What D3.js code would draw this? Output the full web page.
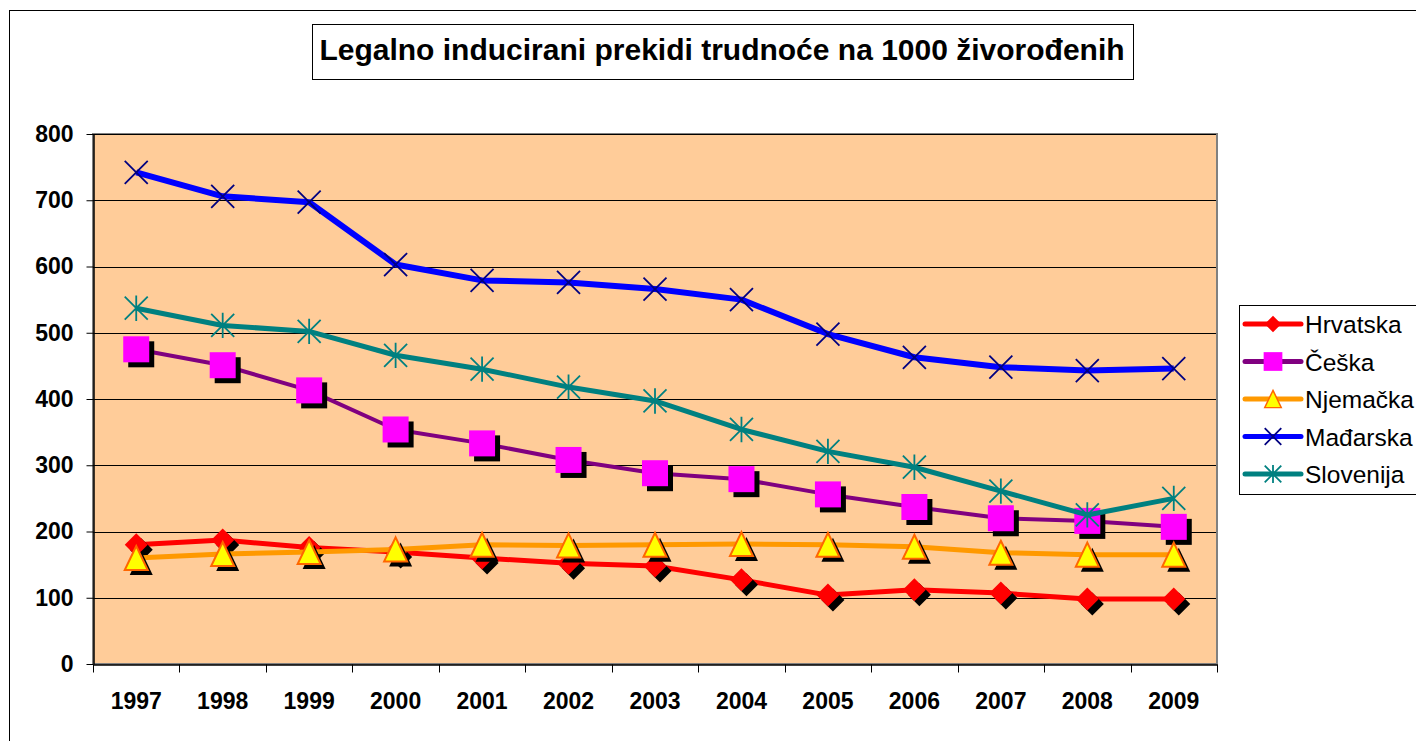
<!DOCTYPE html>
<html>
<head>
<meta charset="utf-8">
<script src="https://cdn.jsdelivr.net/npm/d3@7"></script>
<style>
  body { margin: 0; background: #fff; }
  svg { display: block; font-family: "Liberation Sans", Arial, sans-serif; }
</style>
</head>
<body>
<svg id="chart" width="1416" height="741"></svg>
<script>
// chart data
var years = ["1997", "1998", "1999", "2000", "2001", "2002", "2003", "2004", "2005", "2006", "2007", "2008", "2009"];
var yTicks = [0, 100, 200, 300, 400, 500, 600, 700, 800];

var hrvatska  = [180, 187, 176, 169, 160, 152, 148, 127, 104, 112, 107, 98, 98];
var ceska     = [475, 451, 413, 354, 333, 308, 288, 279, 256, 237, 220, 216, 207];
var njemacka  = [160, 166, 169, 173, 180, 179, 180, 181, 180, 177, 168, 165, 165];
var madarska  = [742, 706, 697, 603, 579, 576, 566, 550, 498, 463, 448, 443, 446];
var slovenija = [537, 511, 502, 466, 445, 418, 397, 354, 321, 297, 261, 225, 250];

var seriesNames = ["Hrvatska", "Češka", "Njemačka", "Mađarska", "Slovenija"];

var TITLE = "Legalno inducirani prekidi trudnoće na 1000 živorođenih";

var PLOT_LEFT = 93;
var PLOT_RIGHT = 1217;
var PLOT_TOP = 134;
var PLOT_BOTTOM = 664;
var SHADOW = 5;

var svg = d3.select("#chart");

var series = [
	{ name: seriesNames[0], values: hrvatska,  line: "#ff0000", width: 5, marker: "diamond" },
	{ name: seriesNames[1], values: ceska,     line: "#800080", width: 4, marker: "square" },
	{ name: seriesNames[2], values: njemacka,  line: "#ff9900", width: 5, marker: "triangle" },
	{ name: seriesNames[3], values: madarska,  line: "#0000ff", width: 6, marker: "cross" },
	{ name: seriesNames[4], values: slovenija, line: "#008080", width: 5, marker: "star" }
];

var x = d3.scaleBand()
	.domain(years)
	.range([PLOT_LEFT, PLOT_RIGHT]);

var y = d3.scaleLinear()
	.domain([0, 800])
	.range([PLOT_BOTTOM, PLOT_TOP]);

function cx(d, i) { return x(years[i]) + x.bandwidth() / 2; }

// outer chart frame (runs past the window edges)
svg.append("rect")
	.attr("x", 9.5).attr("y", 10.5)
	.attr("width", 1500).attr("height", 800)
	.attr("fill", "none").attr("stroke", "#000").attr("stroke-width", 1);

// plot area
svg.append("rect")
	.attr("x", PLOT_LEFT).attr("y", PLOT_TOP)
	.attr("width", PLOT_RIGHT - PLOT_LEFT).attr("height", PLOT_BOTTOM - PLOT_TOP)
	.attr("fill", "#ffcc99")
	.attr("stroke", "#808080").attr("stroke-width", 2);

// gridlines
svg.append("g")
	.selectAll("line")
	.data(yTicks.filter(function(d) { return d > 0; }))
	.enter()
	.append("line")
	.attr("x1", PLOT_LEFT).attr("x2", PLOT_RIGHT - 1)
	.attr("y1", function(d) { return Math.round(y(d)) + 0.5; })
	.attr("y2", function(d) { return Math.round(y(d)) + 0.5; })
	.attr("stroke", "#000").attr("stroke-width", 1);

// y axis
var yAxis = svg.append("g")
	.attr("transform", "translate(" + (PLOT_LEFT + 0.5) + ",0)")
	.call(d3.axisLeft(y).tickValues(yTicks).tickSize(7).tickPadding(13).tickSizeOuter(0));

// x axis: ticks sit on the band edges
var edges = years.map(function(d) { return x(d); }).concat([PLOT_RIGHT]);
var xAxis = svg.append("g")
	.attr("transform", "translate(0," + (PLOT_BOTTOM + 0.5) + ")")
	.call(d3.axisBottom(x).tickSize(0).tickPadding(28).tickSizeOuter(0));

xAxis.selectAll(".edge")
	.data(edges)
	.enter()
	.append("line")
	.attr("class", "edge")
	.attr("x1", function(d) { return Math.round(d) + 0.5; })
	.attr("x2", function(d) { return Math.round(d) + 0.5; })
	.attr("y1", 0).attr("y2", 8)
	.attr("stroke", "#000");

[xAxis, yAxis].forEach(function(ax) {
	ax.select(".domain").attr("stroke", "#000").attr("stroke-width", 1.5);
	ax.selectAll(".tick line").attr("stroke", "#000");
	ax.selectAll("text")
		.attr("fill", "#000")
		.style("font-size", "23px")
		.style("font-weight", "bold")
		.style("font-family", "'Liberation Sans', Arial, sans-serif");
});

// marker outlines, centred on the point
var markerPaths = {
	diamond: "M0,-11.5L11.5,0L0,11.5L-11.5,0Z",
	square: "M-13,-13H13V13H-13Z",
	triangle: "M0,-12L11.5,12L-11.5,12Z"
};

function fillMarker(m, type) {
	if (type == "diamond") {
		m.attr("fill", "#ff0000");
	}
	else if (type == "square") {
		m.attr("fill", "#ff00ff");
	}
	else {
		m.attr("fill", "#ffff00").attr("stroke", "#ff6600").attr("stroke-width", 2);
	}
}

function drawMarker(g, type, px, py, scale, shadow) {
	var s = scale || 1;
	if (markerPaths[type]) {
		var path = markerPaths[type];
		if (shadow) {
			g.append("path")
				.attr("d", path)
				.attr("transform", "translate(" + (px + SHADOW) + "," + (py + SHADOW) + ") scale(" + s + ")")
				.attr("fill", "#000");
		}
		var m = g.append("path")
			.attr("d", path)
			.attr("transform", "translate(" + px + "," + py + ") scale(" + s + ")");
		fillMarker(m, type);
	}
	else if (type == "cross") {
		var r = 11.5 * s;
		g.append("path")
			.attr("d", "M" + (px - r) + "," + (py - r) + "L" + (px + r) + "," + (py + r) +
				"M" + (px - r) + "," + (py + r) + "L" + (px + r) + "," + (py - r))
			.attr("stroke", "#000080").attr("stroke-width", 1.8).attr("fill", "none");
	}
	else {
		var r2 = 11.5 * s;
		g.append("path")
			.attr("d", "M" + (px - r2) + "," + (py - r2) + "L" + (px + r2) + "," + (py + r2) +
				"M" + (px - r2) + "," + (py + r2) + "L" + (px + r2) + "," + (py - r2) +
				"M" + px + "," + (py - r2 * 1.1) + "L" + px + "," + (py + r2 * 1.1))
			.attr("stroke", "#008080").attr("stroke-width", 1.8).attr("fill", "none");
	}
}

var line = d3.line()
	.x(cx)
	.y(function(d) { return y(d); });

series.forEach(function(s) {
	var g = svg.append("g");
	g.append("path")
		.datum(s.values)
		.attr("d", line)
		.attr("fill", "none")
		.attr("stroke", s.line)
		.attr("stroke-width", s.width)
		.attr("stroke-linejoin", "round");
	s.values.forEach(function(v, i) {
		drawMarker(g, s.marker, cx(v, i), y(v), 1, true);
	});
});

// title box
var title = svg.append("g");
title.append("rect")
	.attr("x", 312.5).attr("y", 24.5)
	.attr("width", 821).attr("height", 55)
	.attr("fill", "#fff").attr("stroke", "#000").attr("stroke-width", 1);
title.append("text")
	.attr("x", 722).attr("y", 60)
	.attr("text-anchor", "middle")
	.style("font-size", "30px")
	.style("font-weight", "bold")
	.text(TITLE);

// legend
var legend = svg.append("g");
legend.append("rect")
	.attr("x", 1239.5).attr("y", 305.5)
	.attr("width", 200).attr("height", 189)
	.attr("fill", "#fff").attr("stroke", "#000").attr("stroke-width", 1);

var legendRows = legend.selectAll(".row")
	.data(series)
	.enter()
	.append("g")
	.attr("class", "row")
	.attr("transform", function(d, i) { return "translate(0," + (324 + i * 37.5) + ")"; });

legendRows.append("line")
	.attr("x1", 1245).attr("x2", 1301)
	.attr("y1", 0).attr("y2", 0)
	.attr("stroke", function(d) { return d.line; })
	.attr("stroke-width", 5)
	.attr("stroke-linecap", "round");

legendRows.each(function(d) {
	drawMarker(d3.select(this), d.marker, 1273, 0, 0.72, false);
});

legendRows.append("text")
	.attr("x", 1305).attr("y", 9)
	.style("font-size", "24.5px")
	.text(function(d) { return d.name; });
</script>
</body>
</html>
